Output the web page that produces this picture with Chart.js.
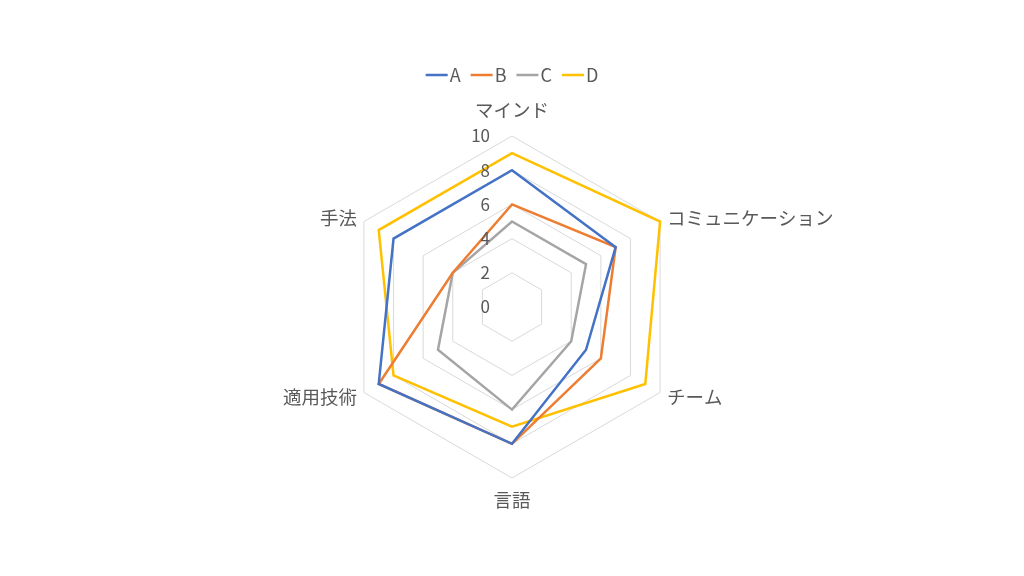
<!DOCTYPE html>
<html lang="ja">
<head>
<meta charset="utf-8">
<script src="https://cdn.jsdelivr.net/npm/chart.js@4"></script>
<style>
html,body{margin:0;padding:0;background:#fff;}
#wrap{width:1024px;height:576px;position:relative;}
</style>
</head>
<body>
<div id="wrap"><canvas id="c"></canvas></div>
<script>
// ---- data ----
const categories = ['マインド', 'コミュニケーション', 'チーム', '言語', '適用技術', '手法'];
const seriesNames = ['A', 'B', 'C', 'D'];
const seriesA = [8, 7, 5, 8, 9, 8];
const seriesB = [6, 7, 6, 8, 9, 4];
const seriesC = [5, 5, 4, 6, 5, 4];
const seriesD = [9, 10, 9, 7, 8, 9];
const tickValues = [0, 2, 4, 6, 8, 10];

// ---- style ----
const colors = ['#4472C4', '#ED7D31', '#A5A5A5', '#FFC000'];
const FONT = '"Noto Sans CJK JP", "Noto Sans", sans-serif';
const TEXT = '#595959';
const GRID = '#D9D9D9';
const GEOM = { cx: 0.5, cy: 307 / 576, r: 171 };
const LEG = { y: 75, line: 22, gap: 2, itemGap: 10, font: '18px ' + FONT };

const allSeries = [seriesA, seriesB, seriesC, seriesD];

const labelPlugin = {
  id: 'radarLabels',
  afterDraw(chart) {
    const s = chart.scales.r;
    const ctx = chart.ctx;
    ctx.save();
    ctx.fillStyle = TEXT;
    // value ticks
    ctx.font = '17px ' + FONT;
    ctx.textAlign = 'right';
    ctx.textBaseline = 'middle';
    tickValues.forEach(v => {
      const d = s.getDistanceFromCenterForValue(v);
      ctx.fillText(String(v), s.xCenter - 22, s.yCenter - d);
    });
    // category labels
    ctx.font = '18.5px ' + FONT;
    categories.forEach((lab, i) => {
      const a = s.getIndexAngle(i);
      const sn = Math.sin(a), cs = Math.cos(a);
      let pad, align;
      if (Math.abs(sn) < 0.01) { align = 'center'; pad = cs > 0 ? 26 : 22; }
      else { align = sn > 0 ? 'left' : 'right'; pad = 8; }
      const p = s.getPointPosition(i, s.drawingArea + pad);
      ctx.textAlign = align;
      ctx.fillText(lab, p.x, p.y);
    });
    // legend
    ctx.font = LEG.font;
    ctx.textAlign = 'left';
    const ds = chart.data.datasets;
    const widths = ds.map(d => LEG.line + LEG.gap + ctx.measureText(d.label).width);
    const total = widths.reduce((a, b) => a + b, 0) + LEG.itemGap * (ds.length - 1);
    let x = chart.width / 2 - total / 2;
    ds.forEach((d, i) => {
      ctx.strokeStyle = d.borderColor;
      ctx.lineWidth = d.borderWidth;
      ctx.beginPath();
      ctx.moveTo(x, LEG.y);
      ctx.lineTo(x + LEG.line, LEG.y);
      ctx.stroke();
      ctx.fillStyle = TEXT;
      ctx.fillText(d.label, x + LEG.line + LEG.gap, LEG.y);
      x += widths[i] + LEG.itemGap;
    });
    ctx.restore();
  }
};

new Chart(document.getElementById('c'), {
  type: 'radar',
  data: {
    labels: categories,
    datasets: seriesNames.map((n, i) => ({
      label: n,
      data: allSeries[i],
      borderColor: colors[i],
      backgroundColor: colors[i],
      pointBorderColor: colors[i],
      pointBackgroundColor: colors[i],
      borderWidth: 2.5,
      pointBorderWidth: 2.5,
      pointRadius: 0,
      pointHoverRadius: 0,
      fill: false,
      tension: 0,
      clip: false
    }))
  },
  options: {
    responsive: true,
    maintainAspectRatio: false,
    animation: false,
    plugins: {
      legend: { display: false },
      tooltip: { enabled: false }
    },
    scales: {
      r: {
        min: 0,
        max: 10,
        ticks: { stepSize: 2, display: false },
        grid: { color: GRID, lineWidth: 1 },
        angleLines: { display: false },
        pointLabels: { display: false },
        afterFit(scale) {
          scale.xCenter = Math.round(scale.chart.width * GEOM.cx);
          scale.yCenter = Math.round(scale.chart.height * GEOM.cy);
          scale.drawingArea = GEOM.r;
        }
      }
    }
  },
  plugins: [labelPlugin]
});
</script>
</body>
</html>
